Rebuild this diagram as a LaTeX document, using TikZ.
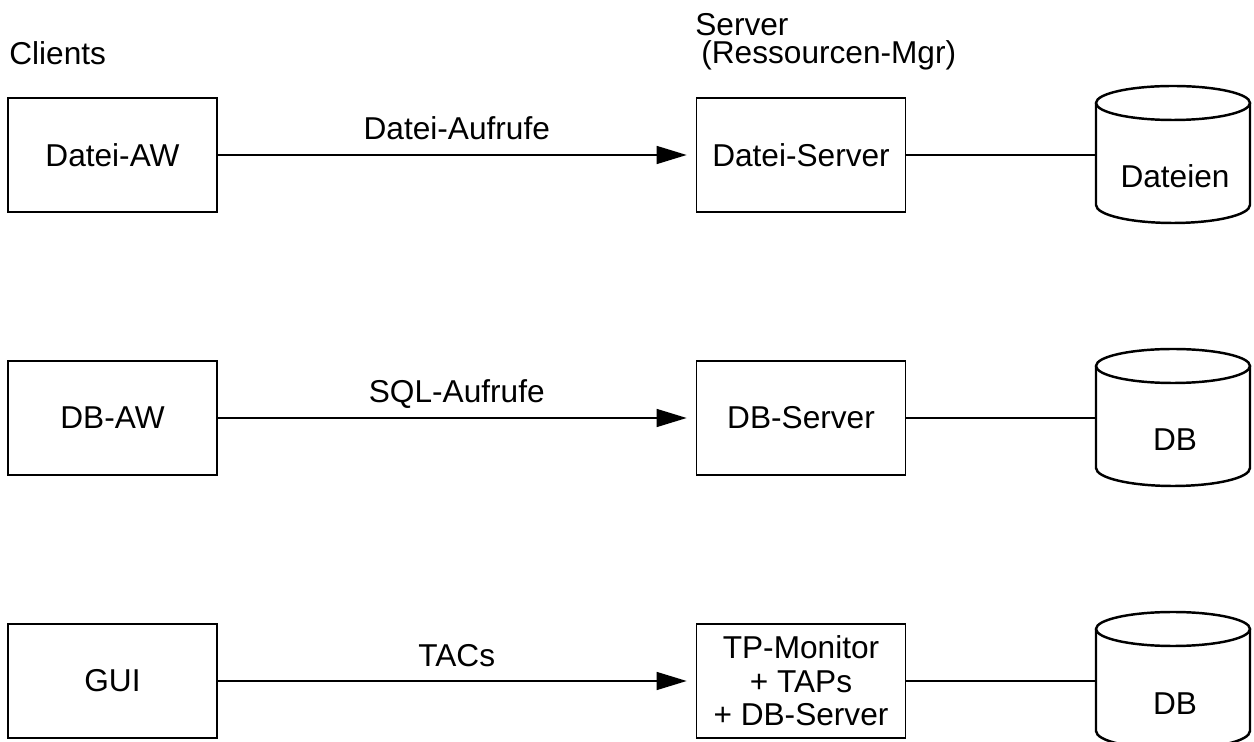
\documentclass[tikz,border=0pt]{standalone}
\usepackage{fontspec}
\setmainfont{Liberation Sans}
\usetikzlibrary{arrows.meta}

\tikzset{
  kasten/.style={draw, line width=1pt, minimum width=4.18cm, minimum height=2.28cm, inner sep=0pt, align=center},
  ruf/.style={line width=0.8pt, -{Triangle[length=0.6cm,width=0.36cm]}, shorten >=0.18cm},
  verb/.style={line width=0.8pt},
  zyl/.style={line width=1.4pt},
  titel/.style={anchor=base west, inner sep=0pt}
}

% Zylinder: Name, Zeile (y), Text
\newcommand{\zylinder}[3]{%
  \draw[zyl] (1096,#2-52) -- (1096,#2+50) arc[start angle=180, end angle=360, x radius=1.54cm, y radius=0.36cm] -- (1250,#2-52);
  \draw[zyl, fill=white] (1173,#2-52) ellipse[x radius=1.54cm, y radius=0.34cm];
  \coordinate (#1) at (1096,#2);
  \node[anchor=base, inner sep=0pt] (#1txt) at (1175,#2+33) {#3};
}

\begin{document}
\begin{tikzpicture}[x=0.02cm, y=-0.02cm, font=\fontsize{18}{19}\selectfont]
        \useasboundingbox (0,0) rectangle (1254,742);

        % Ueberschriften
        \node[titel] (clients) at (9,65) {Clients};
        \node[titel] (server) at (695,36) {Server};
        \node[titel] (mgr) at (701,64) {(Ressourcen-Mgr)};

        % Datei-AW
        \node[kasten] (dateiaw) at (112.5,155) {Datei-AW};
        \node[kasten] (dateisrv) at (801,155) {Datei-Server};
        \zylinder{dateien}{155}{Dateien}
        \draw[ruf] (dateiaw) -- node[pos=.5, anchor=base, yshift=0.3cm, inner sep=0pt] {Datei-Aufrufe} (dateisrv);
        \draw[verb] (dateisrv) -- (dateien);

        % DB-AW
        \node[kasten] (dbaw) at (112.5,418) {DB-AW};
        \node[kasten] (dbsrv) at (801,418) {DB-Server};
        \zylinder{db}{418}{DB}
        \draw[ruf] (dbaw) -- node[pos=.5, anchor=base, yshift=0.3cm, inner sep=0pt] {SQL-Aufrufe} (dbsrv);
        \draw[verb] (dbsrv) -- (db);

        % GUI
        \node[kasten] (gui) at (112.5,681) {GUI};
        \node[kasten] (tpmon) at (801,681) {TP-Monitor\\+ TAPs\\+ DB-Server};
        \zylinder{tpdb}{681}{DB}
        \draw[ruf] (gui) -- node[pos=.5, anchor=base, yshift=0.3cm, inner sep=0pt] {TACs} (tpmon);
        \draw[verb] (tpmon) -- (tpdb);
    \end{tikzpicture}
\end{document}
